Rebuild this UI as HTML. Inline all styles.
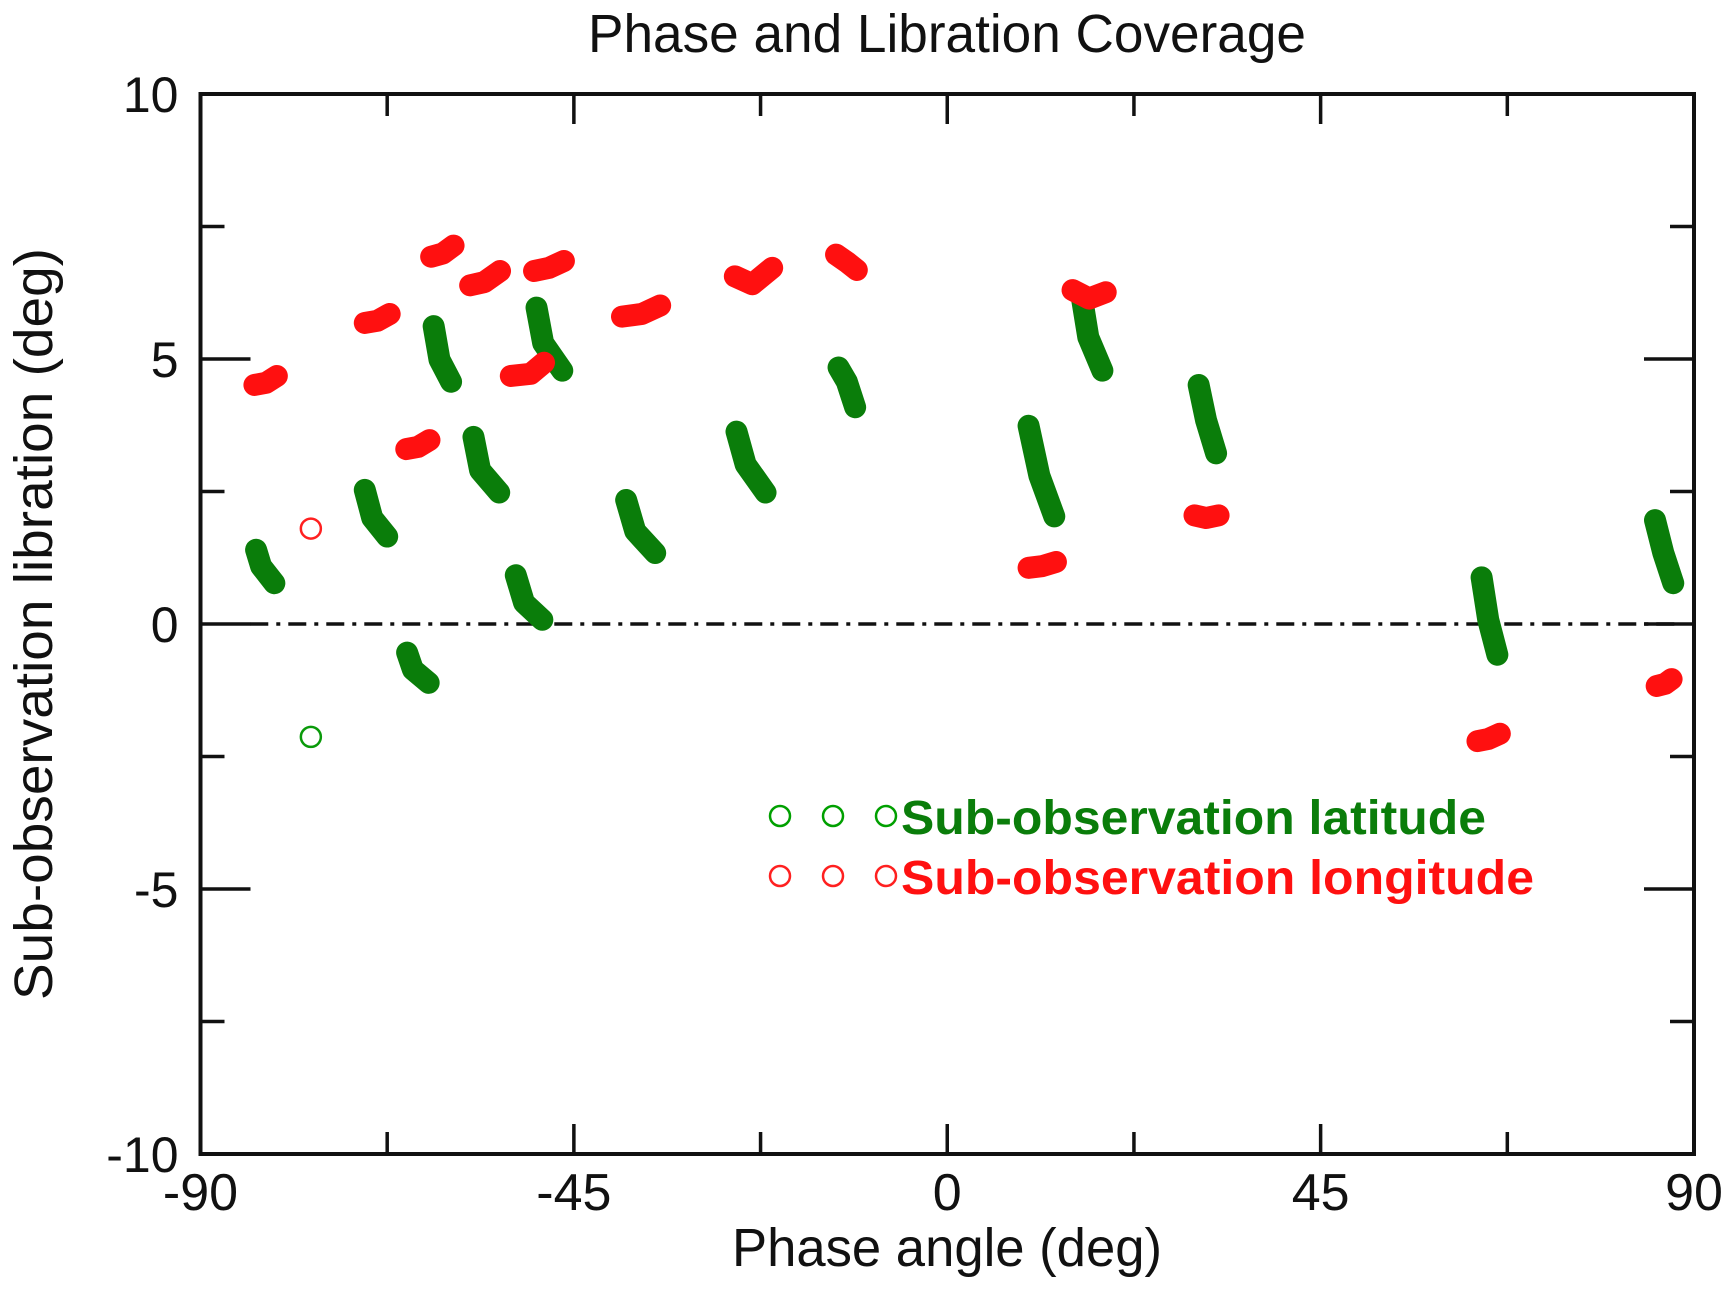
<!DOCTYPE html>
<html><head><meta charset="utf-8"><style>
body{margin:0;background:#fff}
svg{display:block;font-family:"Liberation Sans",sans-serif}
</style></head><body>
<svg id="chart" width="1734" height="1292" viewBox="0 0 1734 1292">
<text x="947" y="52" font-size="54" text-anchor="middle" fill="#111" textLength="718" lengthAdjust="spacingAndGlyphs">Phase and Libration Coverage</text>
<g id="axes"></g>
<g id="marks"></g>
<text x="947" y="1266" font-size="54" text-anchor="middle" fill="#111" textLength="430" lengthAdjust="spacingAndGlyphs">Phase angle (deg)</text>
<text transform="translate(52,624) rotate(-90)" font-size="54" text-anchor="middle" fill="#111" textLength="752" lengthAdjust="spacingAndGlyphs">Sub-observation libration (deg)</text>
<g>
<circle cx="780" cy="816" r="10" fill="none" stroke="#00a000" stroke-width="2.5"/>
<circle cx="833" cy="816" r="10" fill="none" stroke="#00a000" stroke-width="2.5"/>
<circle cx="886" cy="816" r="10" fill="none" stroke="#00a000" stroke-width="2.5"/>
<text x="901" y="834" font-size="48" font-weight="bold" fill="#0a7d0a" textLength="585" lengthAdjust="spacingAndGlyphs">Sub-observation latitude</text>
<circle cx="780" cy="876" r="10" fill="none" stroke="#ff2020" stroke-width="2.5"/>
<circle cx="833" cy="876" r="10" fill="none" stroke="#ff2020" stroke-width="2.5"/>
<circle cx="886" cy="876" r="10" fill="none" stroke="#ff2020" stroke-width="2.5"/>
<text x="901" y="894" font-size="48" font-weight="bold" fill="#ff1010" textLength="633" lengthAdjust="spacingAndGlyphs">Sub-observation longitude</text>
</g>
</svg>
<script>
const xTicks=[-90,-45,0,45,90];
const yTicks=[-10,-5,0,5,10];
const latX=[[-83.3,-82.7,-81.1],[-70.2,-69.3,-67.5],[-65.1,-64.4,-62.5],[-61.9,-61.2,-59.8],[-57.1,-56.3,-54.0],[-52.0,-51.0,-48.8],[-49.5,-48.7,-46.4],[-38.7,-37.6,-35.2],[-25.4,-24.3,-21.9],[-13.1,-12.1,-11.1],[9.8,11.1,12.9],[16.2,17.0,18.7],[30.3,31.2,32.4],[64.4,65.2,66.3],[85.3,86.3,87.5]];
const latY=[[1.40,1.09,0.77],[2.53,2.00,1.65],[-0.54,-0.86,-1.11],[5.62,4.99,4.57],[3.53,2.90,2.48],[0.92,0.40,0.08],[5.97,5.30,4.78],[2.34,1.75,1.34],[3.63,3.01,2.48],[4.84,4.57,4.09],[3.74,2.80,2.03],[6.18,5.41,4.78],[4.51,3.84,3.22],[0.88,0.08,-0.58],[1.96,1.34,0.77]];
const lonX=[[-83.5,-82.1,-80.8],[-70.2,-68.7,-67.2],[-65.2,-63.8,-62.4],[-62.2,-60.8,-59.5],[-57.5,-55.8,-53.9],[-52.6,-50.2,-48.6],[-49.8,-48.0,-46.2],[-39.2,-36.8,-34.6],[-25.6,-23.5,-21.1],[-13.4,-12.1,-10.9],[9.8,11.4,13.1],[15.1,17.1,19.1],[29.8,31.2,32.7],[63.9,65.2,66.6],[85.5,86.5,87.3]];
const lonY=[[4.51,4.55,4.68],[5.68,5.72,5.85],[3.30,3.34,3.47],[6.93,6.99,7.14],[6.39,6.45,6.66],[4.68,4.72,4.93],[6.66,6.72,6.85],[5.80,5.85,6.01],[6.56,6.41,6.72],[6.97,6.83,6.68],[1.06,1.09,1.17],[6.30,6.14,6.26],[2.05,2.00,2.05],[-2.21,-2.17,-2.07],[-1.17,-1.13,-1.04]];
const openLat=[[-76.7,-2.13]];
const openLon=[[-76.7,1.80]];
const L=200.5,R=1694,T=94,B=1154;
const sx=v=>L+(v+90)/180*(R-L);
const sy=v=>B-(v+10)/20*(B-T);
const NS='http://www.w3.org/2000/svg';
const axes=document.getElementById('axes'),marks=document.getElementById('marks');
function mk(tag,attrs,parent){const e=document.createElementNS(NS,tag);for(const k in attrs)e.setAttribute(k,attrs[k]);parent.appendChild(e);return e;}
const fr=mk('rect',{x:L,y:T,width:R-L,height:B-T,fill:'none',stroke:'#111','stroke-width':4},axes);


for(let v=-90;v<=90;v+=22.5){const major=xTicks.includes(v);const len=major?30:22;
 const t1=mk('line',{x1:sx(v),x2:sx(v),y1:B,y2:B-len,stroke:'#111','stroke-width':3.5},axes);
 
 
 const t2=mk('line',{x1:sx(v),x2:sx(v),y1:T,y2:T+len,stroke:'#111','stroke-width':3.5},axes);
 
 }
xTicks.forEach(v=>{const t=mk('text',{x:sx(v),y:B+56,'font-size':52,'text-anchor':'middle',fill:'#111'},axes);t.textContent=v;
 
 });
for(let v=-10;v<=10;v+=2.5){const major=yTicks.includes(v);const len=major?50:24;
 const t1=mk('line',{x1:L,x2:L+len,y1:sy(v),y2:sy(v),stroke:'#111','stroke-width':3.5},axes);
 
 
 const t2=mk('line',{x1:R,x2:R-len,y1:sy(v),y2:sy(v),stroke:'#111','stroke-width':3.5},axes);
 
 }
yTicks.forEach(v=>{const t=mk('text',{x:L-22,y:sy(v)+18,'font-size':50,'text-anchor':'end',fill:'#111'},axes);t.textContent=v;
 
 });
const z=mk('line',{x1:sx(-84),x2:sx(88),y1:sy(0),y2:sy(0),stroke:'#111','stroke-width':3.5,'stroke-dasharray':'18 8 4 8'},axes);


function streaks(X,Y,color,name){X.forEach((xs,i)=>{const pts=xs.map((x,j)=>sx(x)+','+sy(Y[i][j])).join(' ');
 const p=mk('polyline',{points:pts,fill:'none',stroke:color,'stroke-width':22,'stroke-linecap':'round','stroke-linejoin':'round'},marks);
 
 });}
streaks(latX,latY,'#0a7d0a','latitude-streak');
streaks(lonX,lonY,'#ff1010','longitude-streak');
openLat.forEach(d=>{const c=mk('circle',{cx:sx(d[0]),cy:sy(d[1]),r:10,fill:'none',stroke:'#0a9a0a','stroke-width':2.5},marks);
 
 });
openLon.forEach(d=>{const c=mk('circle',{cx:sx(d[0]),cy:sy(d[1]),r:10,fill:'none',stroke:'#ff2020','stroke-width':2.5},marks);
 
 });
</script>
</body></html>
